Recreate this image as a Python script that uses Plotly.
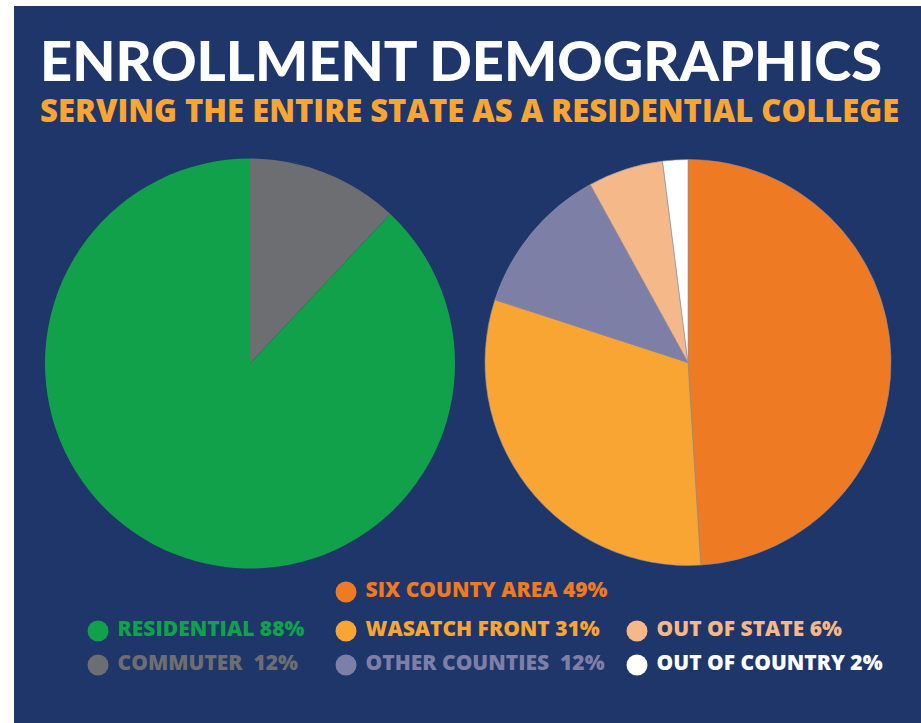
import plotly.graph_objects as go

W, H = 921, 723

# ---- data ----
left_labels = ["COMMUTER", "RESIDENTIAL"]
left_values = [12, 88]
left_colors = ["#6d6e71", "#10a14a"]

right_labels = ["SIX COUNTY AREA", "WASATCH FRONT", "OTHER COUNTIES", "OUT OF STATE", "OUT OF COUNTRY"]
right_values = [49, 31, 12, 6, 2]
right_colors = ["#ee7a23", "#f9a533", "#7d7fa6", "#f5b888", "#ffffff"]

legend_text = ["RESIDENTIAL 88%", "COMMUTER  12%", "SIX COUNTY AREA 49%", "WASATCH FRONT 31%",
               "OTHER COUNTIES  12%", "OUT OF STATE 6%", "OUT OF COUNTRY 2%"]
legend_colors = ["#10a14a", "#6d6e71", "#ee7a23", "#f9a533", "#7d7fa6", "#f5b888", "#ffffff"]
legend_x = [98, 98, 346, 346, 346, 637, 637]
legend_y = [631, 665, 592, 631, 665, 631, 665]

title = "ENROLLMENT DEMOGRAPHICS"
subtitle = "SERVING THE ENTIRE STATE AS A RESIDENTIAL COLLEGE"

NAVY = "#1e366a"
FONT = "Lato"
FONT2 = "Open Sans"

fig = go.Figure()

def dom(x0, x1, y0, y1):
    return dict(x=[x0 / W, x1 / W], y=[1 - y1 / H, 1 - y0 / H])

fig.add_trace(go.Pie(labels=left_labels, values=left_values, sort=False, direction="clockwise",
                     rotation=0, textinfo="none", hoverinfo="label+percent",
                     marker=dict(colors=left_colors, line=dict(width=0)),
                     domain=dom(45, 455, 157, 570), showlegend=False))
fig.add_trace(go.Pie(labels=right_labels, values=right_values, sort=False, direction="clockwise",
                     rotation=0, textinfo="none", hoverinfo="label+percent",
                     marker=dict(colors=right_colors, line=dict(width=0.6, color="#8a8fa8")),
                     domain=dom(485, 891, 158, 567), showlegend=False))

# legend drawn as scatter points on hidden pixel axes
fig.add_trace(go.Scatter(x=legend_x, y=legend_y, mode="markers+text",
                         text=[" " + t for t in legend_text], textposition="middle right",
                         marker=dict(size=21, color=legend_colors, line=dict(width=0)),
                         textfont=dict(family=FONT2, size=21, color=legend_colors, weight=800),
                         hoverinfo="skip", showlegend=False, cliponaxis=False))

fig.update_layout(
    width=W, height=H,
    margin=dict(l=0, r=0, t=0, b=0),
    paper_bgcolor="white", plot_bgcolor="rgba(0,0,0,0)",
    xaxis=dict(range=[0, W], visible=False, domain=[0, 1], fixedrange=True),
    yaxis=dict(range=[H, 0], visible=False, domain=[0, 1], fixedrange=True),
    shapes=[dict(type="rect", xref="paper", yref="paper", x0=14 / W, x1=1, y0=0, y1=1 - 6 / H,
                 fillcolor=NAVY, line=dict(width=0), layer="below")],
    annotations=[
        dict(text=title, x=461 / W, y=1 - 59 / H, xref="paper", yref="paper", showarrow=False,
             xanchor="center", yanchor="middle",
             font=dict(family=FONT, size=56, color="white", weight=900)),
        dict(text=subtitle, x=469 / W, y=1 - 110 / H, xref="paper", yref="paper", showarrow=False,
             xanchor="center", yanchor="middle",
             font=dict(family=FONT2, size=31, color="#f9a533", weight=800)),
    ],
)

fig.write_html("out.html", config={"displayModeBar": False},
               post_script="document.body.style.margin='0';document.body.style.overflow='hidden';")
